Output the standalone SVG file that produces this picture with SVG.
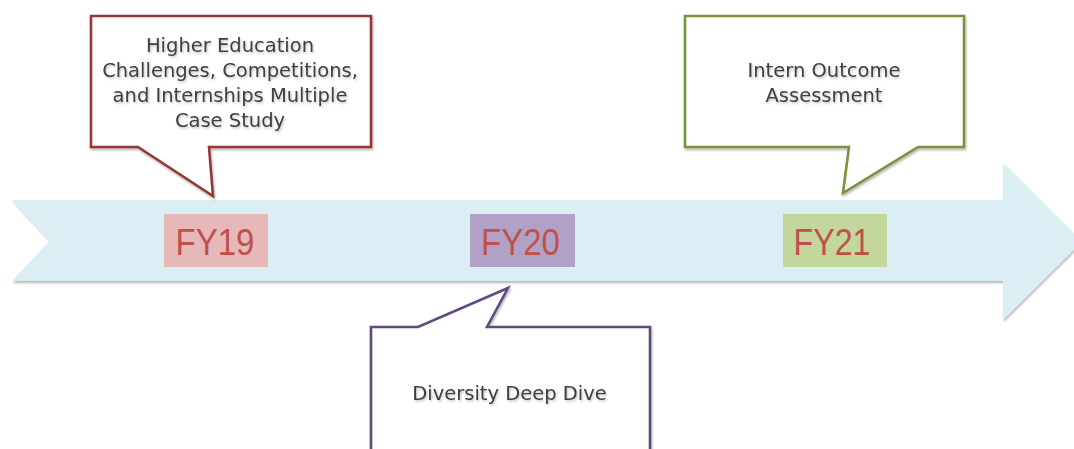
<svg xmlns="http://www.w3.org/2000/svg" width="1074" height="449" viewBox="0 0 1074 449">
  <defs>
    <filter id="softShadow" x="-10%" y="-10%" width="120%" height="130%">
      <feDropShadow dx="1" dy="2" stdDeviation="1.2" flood-color="#000" flood-opacity="0.28"/>
    </filter>
    <filter id="textShadow" x="-5%" y="-20%" width="110%" height="150%">
      <feDropShadow dx="1" dy="1.5" stdDeviation="1" flood-color="#000" flood-opacity="0.25"/>
    </filter>
  </defs>
  <style>
    .timeline { fill: #DBEEF3; }
    .callout { fill: #FFFFFF; stroke-width: 2.6; stroke-linejoin: miter; }
    .note { font-family: "DejaVu Sans", Verdana, sans-serif; font-size: 19.5px; fill: #3F3F3F; text-anchor: middle; }
    .year { font-family: "Liberation Sans", Arial, sans-serif; font-size: 36px; fill: #C0504D; text-anchor: middle; }
  </style>

  <rect width="1074" height="449" fill="#FFFFFF"/>

  <!-- timeline arrow -->
  <g id="timeline" filter="url(#softShadow)">
    <polygon class="timeline" points="12,200 1003,200 1003,163 1082,241.5 1003,320 1003,281 12,281 50,240.5"/>
  </g>

  <!-- connectors: the callout pointers are part of each callout outline -->
  <g id="connectors"></g>

  <!-- FY19 callout -->
  <g id="callout-fy19">
    <path class="callout" stroke="#953735" filter="url(#softShadow)"
          d="M91,16 H371 V147 H209 L213,196 L138,147 H91 Z"/>
    <g filter="url(#textShadow)">
      <text class="note" x="230" y="51.5">Higher Education</text>
      <text class="note" x="230" y="76.5">Challenges, Competitions,</text>
      <text class="note" x="230" y="101.5">and Internships Multiple</text>
      <text class="note" x="230" y="126.5">Case Study</text>
    </g>
  </g>

  <!-- FY21 callout -->
  <g id="callout-fy21">
    <path class="callout" stroke="#77933C" filter="url(#softShadow)"
          d="M685,16 H964 V147 H918 L843,193 L849,147 H685 Z"/>
    <g filter="url(#textShadow)">
      <text class="note" x="824" y="77">Intern Outcome</text>
      <text class="note" x="824" y="101.5">Assessment</text>
    </g>
  </g>

  <!-- FY20 callout -->
  <g id="callout-fy20">
    <path class="callout" stroke="#604A7B" filter="url(#softShadow)"
          d="M371,460 V327 H418 L508,288 L487,327 H650 V460"/>
    <g filter="url(#textShadow)">
      <text class="note" x="509.5" y="400">Diversity Deep Dive</text>
    </g>
  </g>

  <!-- year markers -->
  <g id="year-fy19">
    <rect x="164" y="214" width="104" height="53" fill="#E6B9B8"/>
    <text class="year" x="215" y="254.5" textLength="79" lengthAdjust="spacingAndGlyphs">FY19</text>
  </g>
  <g id="year-fy20">
    <rect x="470" y="214" width="105" height="53" fill="#B2A1C7"/>
    <text class="year" x="520.5" y="254.5" textLength="79" lengthAdjust="spacingAndGlyphs">FY20</text>
  </g>
  <g id="year-fy21">
    <rect x="783" y="214" width="104" height="53" fill="#C3D69B"/>
    <text class="year" x="832" y="254.5" textLength="77" lengthAdjust="spacingAndGlyphs">FY21</text>
  </g>
</svg>
